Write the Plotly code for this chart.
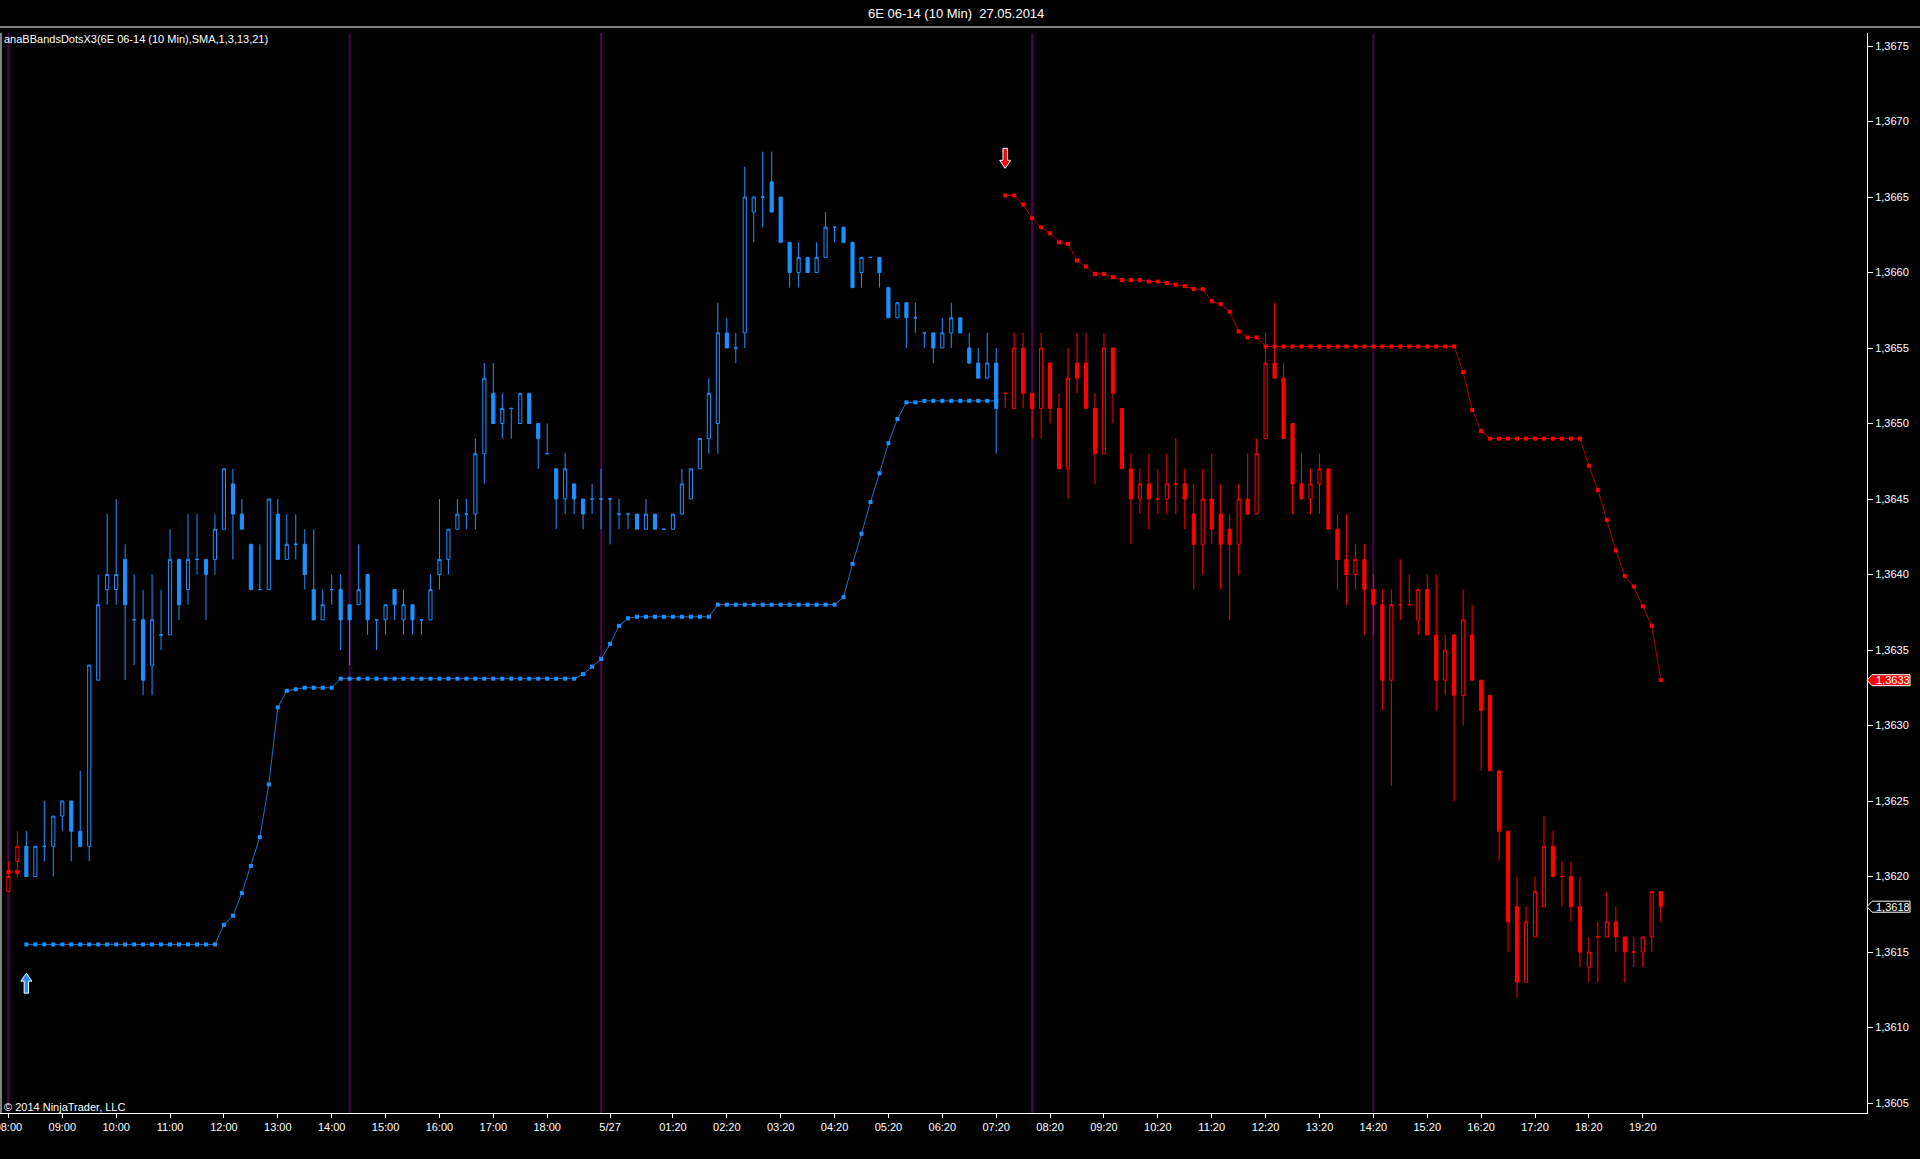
import plotly.graph_objects as go

# ---------------- data (10-minute bars, index 0 = 08:00 on 5/26) ----------------
opens = [
    1.3619, 1.3621, 1.3622, 1.3620, 1.3622, 1.3622, 1.3624, 1.3625, 1.3623, 1.3622,
    1.3633, 1.3639, 1.3639, 1.3641, 1.3637, 1.3637, 1.3634, 1.3636, 1.3636, 1.3641,
    1.3639, 1.3641, 1.3641, 1.3641, 1.3643, 1.3646, 1.3644, 1.3642, 1.3639, 1.3639,
    1.3644, 1.3641, 1.3642, 1.3642, 1.3639, 1.3637, 1.3639, 1.3639, 1.3638, 1.3638,
    1.3640, 1.3637, 1.3637, 1.3639, 1.3637, 1.3638, 1.3637, 1.3637, 1.3640, 1.3641,
    1.3643, 1.3644, 1.3644, 1.3648, 1.3652, 1.3650, 1.3651, 1.3650, 1.3652, 1.3650,
    1.3648, 1.3647, 1.3645, 1.3646, 1.3645, 1.3645, 1.3645, 1.3645, 1.3644, 1.3644,
    1.3644, 1.3643, 1.3644, 1.3643, 1.3643, 1.3644, 1.3645, 1.3647, 1.3649, 1.3650,
    1.3656, 1.3655, 1.3656, 1.3664, 1.3665, 1.3666, 1.3665, 1.3662, 1.3660, 1.3661,
    1.3660, 1.3661, 1.3663, 1.3663, 1.3662, 1.3660, 1.3661, 1.3661, 1.3659, 1.3657,
    1.3658, 1.3657, 1.3656, 1.3656, 1.3655, 1.3656, 1.3657, 1.3655, 1.3654, 1.3653,
    1.3654, 1.3652, 1.3651, 1.3655, 1.3652, 1.3651, 1.3654, 1.3651, 1.3647, 1.3654,
    1.3654, 1.3651, 1.3648, 1.3655, 1.3651, 1.3647, 1.3645, 1.3646, 1.3645, 1.3645,
    1.3646, 1.3646, 1.3644, 1.3642, 1.3645, 1.3644, 1.3643, 1.3642, 1.3645, 1.3644,
    1.3649, 1.3654, 1.3653, 1.3650, 1.3646, 1.3645, 1.3646, 1.3647, 1.3643, 1.3641,
    1.3640, 1.3641, 1.3639, 1.3638, 1.3633, 1.3638, 1.3638, 1.3637, 1.3639, 1.3636,
    1.3633, 1.3636, 1.3632, 1.3636, 1.3633, 1.3632, 1.3627, 1.3623, 1.3618, 1.3613,
    1.3616, 1.3618, 1.3622, 1.3620, 1.3620, 1.3618, 1.3614, 1.3616, 1.3616, 1.3617,
    1.3616, 1.3615, 1.3615, 1.3616, 1.3619,
]
highs = [
    1.3621, 1.3623, 1.3623, 1.3622, 1.3625, 1.3624, 1.3625, 1.3625, 1.3627, 1.3634,
    1.3640, 1.3644, 1.3645, 1.3642, 1.3640, 1.3639, 1.3640, 1.3639, 1.3643, 1.3641,
    1.3644, 1.3644, 1.3641, 1.3644, 1.3647, 1.3647, 1.3645, 1.3642, 1.3642, 1.3645,
    1.3645, 1.3644, 1.3644, 1.3643, 1.3643, 1.3639, 1.3640, 1.3640, 1.3638, 1.3642,
    1.3640, 1.3637, 1.3638, 1.3639, 1.3639, 1.3638, 1.3637, 1.3640, 1.3645, 1.3643,
    1.3645, 1.3645, 1.3649, 1.3654, 1.3654, 1.3652, 1.3651, 1.3652, 1.3652, 1.3650,
    1.3650, 1.3647, 1.3648, 1.3646, 1.3645, 1.3646, 1.3647, 1.3645, 1.3645, 1.3644,
    1.3644, 1.3645, 1.3644, 1.3643, 1.3644, 1.3647, 1.3647, 1.3649, 1.3653, 1.3658,
    1.3657, 1.3656, 1.3667, 1.3665, 1.3668, 1.3668, 1.3665, 1.3662, 1.3662, 1.3661,
    1.3662, 1.3664, 1.3663, 1.3663, 1.3662, 1.3661, 1.3661, 1.3661, 1.3659, 1.3658,
    1.3658, 1.3658, 1.3656, 1.3656, 1.3657, 1.3658, 1.3657, 1.3656, 1.3655, 1.3656,
    1.3655, 1.3652, 1.3656, 1.3656, 1.3652, 1.3656, 1.3654, 1.3652, 1.3655, 1.3656,
    1.3656, 1.3652, 1.3656, 1.3655, 1.3651, 1.3648, 1.3647, 1.3648, 1.3647, 1.3648,
    1.3649, 1.3647, 1.3646, 1.3647, 1.3648, 1.3646, 1.3644, 1.3646, 1.3648, 1.3649,
    1.3656, 1.3658, 1.3654, 1.3650, 1.3648, 1.3647, 1.3648, 1.3647, 1.3644, 1.3644,
    1.3642, 1.3642, 1.3640, 1.3639, 1.3639, 1.3641, 1.3640, 1.3639, 1.3640, 1.3640,
    1.3636, 1.3636, 1.3639, 1.3638, 1.3633, 1.3632, 1.3627, 1.3623, 1.3620, 1.3618,
    1.3620, 1.3624, 1.3623, 1.3621, 1.3621, 1.3620, 1.3616, 1.3617, 1.3619, 1.3618,
    1.3616, 1.3616, 1.3616, 1.3619, 1.3619,
]
lows = [
    1.3619, 1.3620, 1.3620, 1.3620, 1.3621, 1.3620, 1.3623, 1.3621, 1.3622, 1.3621,
    1.3633, 1.3638, 1.3638, 1.3633, 1.3634, 1.3632, 1.3632, 1.3635, 1.3636, 1.3637,
    1.3638, 1.3640, 1.3637, 1.3640, 1.3643, 1.3641, 1.3643, 1.3639, 1.3639, 1.3639,
    1.3641, 1.3641, 1.3641, 1.3639, 1.3637, 1.3637, 1.3638, 1.3635, 1.3634, 1.3638,
    1.3636, 1.3635, 1.3636, 1.3637, 1.3636, 1.3636, 1.3636, 1.3637, 1.3639, 1.3640,
    1.3643, 1.3643, 1.3643, 1.3646, 1.3650, 1.3649, 1.3649, 1.3650, 1.3650, 1.3647,
    1.3648, 1.3643, 1.3644, 1.3644, 1.3643, 1.3644, 1.3643, 1.3642, 1.3643, 1.3643,
    1.3643, 1.3643, 1.3643, 1.3643, 1.3643, 1.3644, 1.3645, 1.3647, 1.3648, 1.3648,
    1.3655, 1.3654, 1.3655, 1.3662, 1.3663, 1.3664, 1.3662, 1.3659, 1.3659, 1.3660,
    1.3660, 1.3661, 1.3662, 1.3662, 1.3659, 1.3659, 1.3661, 1.3659, 1.3657, 1.3657,
    1.3655, 1.3656, 1.3655, 1.3654, 1.3655, 1.3655, 1.3656, 1.3654, 1.3653, 1.3653,
    1.3648, 1.3651, 1.3651, 1.3651, 1.3649, 1.3649, 1.3650, 1.3647, 1.3645, 1.3652,
    1.3651, 1.3646, 1.3648, 1.3650, 1.3647, 1.3642, 1.3644, 1.3643, 1.3644, 1.3644,
    1.3644, 1.3643, 1.3639, 1.3640, 1.3642, 1.3639, 1.3637, 1.3640, 1.3644, 1.3644,
    1.3649, 1.3653, 1.3649, 1.3644, 1.3645, 1.3644, 1.3644, 1.3643, 1.3639, 1.3638,
    1.3639, 1.3636, 1.3636, 1.3631, 1.3626, 1.3637, 1.3638, 1.3636, 1.3636, 1.3631,
    1.3632, 1.3625, 1.3630, 1.3633, 1.3627, 1.3627, 1.3621, 1.3615, 1.3612, 1.3613,
    1.3616, 1.3618, 1.3620, 1.3618, 1.3617, 1.3614, 1.3613, 1.3613, 1.3616, 1.3615,
    1.3613, 1.3614, 1.3614, 1.3615, 1.3617,
]
closes = [
    1.3620, 1.3622, 1.3620, 1.3622, 1.3622, 1.3624, 1.3625, 1.3623, 1.3622, 1.3634,
    1.3638, 1.3640, 1.3640, 1.3638, 1.3637, 1.3633, 1.3637, 1.3636, 1.3641, 1.3638,
    1.3641, 1.3641, 1.3640, 1.3643, 1.3647, 1.3644, 1.3643, 1.3639, 1.3639, 1.3645,
    1.3641, 1.3642, 1.3642, 1.3640, 1.3637, 1.3638, 1.3639, 1.3637, 1.3637, 1.3639,
    1.3637, 1.3637, 1.3638, 1.3638, 1.3638, 1.3637, 1.3637, 1.3639, 1.3641, 1.3643,
    1.3644, 1.3644, 1.3648, 1.3653, 1.3650, 1.3651, 1.3651, 1.3652, 1.3650, 1.3649,
    1.3648, 1.3645, 1.3647, 1.3645, 1.3644, 1.3645, 1.3645, 1.3645, 1.3644, 1.3644,
    1.3643, 1.3644, 1.3643, 1.3643, 1.3644, 1.3646, 1.3647, 1.3649, 1.3652, 1.3656,
    1.3655, 1.3655, 1.3665, 1.3665, 1.3665, 1.3664, 1.3662, 1.3660, 1.3661, 1.3660,
    1.3661, 1.3663, 1.3663, 1.3662, 1.3659, 1.3661, 1.3661, 1.3660, 1.3657, 1.3658,
    1.3657, 1.3657, 1.3656, 1.3655, 1.3656, 1.3657, 1.3656, 1.3654, 1.3653, 1.3654,
    1.3651, 1.3652, 1.3655, 1.3652, 1.3651, 1.3655, 1.3651, 1.3647, 1.3653, 1.3653,
    1.3651, 1.3648, 1.3655, 1.3652, 1.3647, 1.3645, 1.3646, 1.3645, 1.3645, 1.3646,
    1.3646, 1.3645, 1.3642, 1.3645, 1.3643, 1.3642, 1.3642, 1.3645, 1.3644, 1.3648,
    1.3654, 1.3653, 1.3649, 1.3646, 1.3645, 1.3646, 1.3647, 1.3643, 1.3641, 1.3640,
    1.3641, 1.3639, 1.3638, 1.3633, 1.3638, 1.3638, 1.3638, 1.3639, 1.3636, 1.3633,
    1.3635, 1.3632, 1.3637, 1.3633, 1.3631, 1.3627, 1.3623, 1.3617, 1.3613, 1.3617,
    1.3619, 1.3622, 1.3620, 1.3620, 1.3618, 1.3615, 1.3615, 1.3616, 1.3617, 1.3616,
    1.3615, 1.3615, 1.3616, 1.3619, 1.3618,
]

# trend regime: bars before up_trend_start and from down_trend_start are red
up_trend_start = 2
down_trend_start = 111

# lower (blue) band dots, bars 2..110
lower_band = (
    [1.36155] * 22
    + [1.36168, 1.36174, 1.36189, 1.36207, 1.36226, 1.36261, 1.36312, 1.36323, 1.36324]
    + [1.36325] * 4
    + [1.36331] * 27
    + [1.36334, 1.36339, 1.36344, 1.36354, 1.36366, 1.36371]
    + [1.36372] * 9
    + [1.3638] * 14
    + [1.36385, 1.36407, 1.36427, 1.36448, 1.36467, 1.36487, 1.36503]
    + [1.36514] * 2
    + [1.36515] * 9
)
# upper (red) band dots, bars 0..1 and 111..184
upper_band_early = [1.36203, 1.36203]
upper_band = (
    [1.36651, 1.36651, 1.36645, 1.36636, 1.3663, 1.36626, 1.3662, 1.36619, 1.36608, 1.36604,
     1.36599, 1.36599, 1.36597, 1.36595, 1.36595, 1.36595, 1.36594, 1.36594, 1.36593, 1.36592,
     1.36591, 1.36589, 1.36589, 1.36581, 1.36579, 1.36574, 1.36561, 1.36557, 1.36557]
    + [1.36551] * 22
    + [1.36534, 1.36509, 1.36495]
    + [1.3649] * 11
    + [1.36472, 1.36456, 1.36436, 1.36416, 1.36399, 1.36392, 1.36379, 1.36366, 1.3633]
)

# signal arrows (bar index, price of arrow tip)
long_signal = (2, 1.36136)
short_signal = (111, 1.36669)

# session break bars (purple lines)
session_breaks = [0, 38, 66, 114, 152]

tick_bars = [0, 6, 12, 18, 24, 30, 36, 42, 48, 54, 60, 67, 74, 80, 86, 92, 98, 104, 110,
             116, 122, 128, 134, 140, 146, 152, 158, 164, 170, 176, 182]
tick_labels = ["08:00", "09:00", "10:00", "11:00", "12:00", "13:00", "14:00", "15:00",
               "16:00", "17:00", "18:00", "5/27", "01:20", "02:20", "03:20", "04:20",
               "05:20", "06:20", "07:20", "08:20", "09:20", "10:20", "11:20", "12:20",
               "13:20", "14:20", "15:20", "16:20", "17:20", "18:20", "19:20"]

title_text = "6E 06-14 (10 Min)\u00a0 27.05.2014"
indicator_text = "anaBBandsDotsX3(6E 06-14 (10 Min),SMA,1,3,13,21)"
copyright_text = "\u00a9 2014 NinjaTrader, LLC"

# ---------------- styling ----------------
BLUE = "#1E90FF"
BLUE_LINE = "#1f72c8"
RED = "#FF0000"
RED_LINE = "#b00000"
PURPLE = "#4e0050"
FONT = "Liberation Sans, Arial, sans-serif"

n = len(closes)
blue_idx = list(range(up_trend_start, down_trend_start))
red_idx = list(range(0, up_trend_start)) + list(range(down_trend_start, n))

fig = go.Figure()

# band dot lines (drawn under candles)
fig.add_trace(go.Scatter(
    x=list(range(up_trend_start, up_trend_start + len(lower_band))), y=lower_band,
    mode="lines+markers", line=dict(color=BLUE_LINE, width=1),
    marker=dict(symbol="square", size=4, color=BLUE, line=dict(width=0)),
    hoverinfo="skip"))
fig.add_trace(go.Scatter(
    x=list(range(0, len(upper_band_early))), y=upper_band_early,
    mode="lines+markers", line=dict(color=RED_LINE, width=1),
    marker=dict(symbol="square", size=4, color=RED, line=dict(width=0)),
    hoverinfo="skip"))
fig.add_trace(go.Scatter(
    x=list(range(down_trend_start, down_trend_start + len(upper_band))), y=upper_band,
    mode="lines+markers", line=dict(color=RED_LINE, width=1),
    marker=dict(symbol="square", size=4, color=RED, line=dict(width=0)),
    hoverinfo="skip"))


def candles(idx, color):
    return go.Candlestick(
        x=idx,
        open=[opens[i] for i in idx], high=[highs[i] for i in idx],
        low=[lows[i] for i in idx], close=[closes[i] for i in idx],
        increasing=dict(line=dict(color=color, width=1), fillcolor="#000000"),
        decreasing=dict(line=dict(color=color, width=1), fillcolor=color),
        whiskerwidth=0, hoverinfo="skip")


fig.add_trace(candles(blue_idx, BLUE))
fig.add_trace(candles(red_idx, RED))

shapes = []
for b in session_breaks:
    shapes.append(dict(type="line", xref="x", yref="paper", x0=b, x1=b, y0=0, y1=1,
                       line=dict(color=PURPLE, width=2), layer="below"))

# frame lines
shapes.append(dict(type="line", xref="paper", yref="paper", ysizemode="pixel", yanchor=1,
                   x0=0, x1=1.03, y0=6, y1=6, line=dict(color="white", width=1)))
shapes.append(dict(type="line", xref="paper", yref="paper", xsizemode="pixel", xanchor=0,
                   x0=1, x1=1, y0=0, y1=1, line=dict(color="white", width=1)))

# signal arrows
up_arrow = "M 0 0 L 5.5 -8 L 2.2 -8 L 2.2 -20 L -2.2 -20 L -2.2 -8 L -5.5 -8 Z"
down_arrow = "M 0 0 L 5.5 8 L 2.2 8 L 2.2 20 L -2.2 20 L -2.2 8 L -5.5 8 Z"
shapes.append(dict(type="path", xref="x", yref="y", xsizemode="pixel", ysizemode="pixel",
                   xanchor=long_signal[0], yanchor=long_signal[1], path=up_arrow,
                   fillcolor=BLUE, line=dict(color="white", width=1)))
shapes.append(dict(type="path", xref="x", yref="y", xsizemode="pixel", ysizemode="pixel",
                   xanchor=short_signal[0], yanchor=short_signal[1], path=down_arrow,
                   fillcolor=RED, line=dict(color="white", width=1)))

# price markers on the axis
box = "M 0 0 L 5 5.5 L 43 5.5 L 43 -5.5 L 5 -5.5 Z"
markers = [(upper_band[-1], RED), (closes[-1], "#000000")]
annotations = []
for val, bg in markers:
    shapes.append(dict(type="path", xref="paper", yref="y", xsizemode="pixel",
                       ysizemode="pixel", xanchor=1, yanchor=val, path=box,
                       fillcolor=bg, line=dict(color="white", width=1)))
    annotations.append(dict(xref="paper", yref="y", x=1, y=val, xanchor="left",
                            yanchor="middle", xshift=7, showarrow=False,
                            text=f"{val:.4f}".replace(".", ","),
                            font=dict(family=FONT, size=11, color="white")))

annotations.append(dict(xref="paper", yref="paper", x=0, y=1, xanchor="left", yanchor="top",
                        xshift=2, yshift=2, showarrow=False, text=indicator_text,
                        font=dict(family=FONT, size=11, color="white")))
annotations.append(dict(xref="paper", yref="paper", x=0, y=0, xanchor="left",
                        yanchor="bottom", xshift=2, yshift=-2, showarrow=False,
                        text=copyright_text, font=dict(family=FONT, size=11, color="white")))

fig.update_layout(
    width=1920, height=1159,
    paper_bgcolor="#000000", plot_bgcolor="#000000",
    margin=dict(l=0, r=53, t=33, b=46, pad=0, autoexpand=False),
    showlegend=False, separators=",.", boxgap=0.5, hovermode=False,
    font=dict(family=FONT, size=11, color="white"),
    title=dict(text=title_text, xref="container", yref="container", x=0.498, y=0.9884,
               xanchor="center", yanchor="middle",
               font=dict(family=FONT, size=13, color="white")),
    xaxis=dict(range=[-0.935, 206.97], tickmode="array", tickvals=tick_bars,
               ticktext=tick_labels, showgrid=False, zeroline=False, showline=True,
               linecolor="white", linewidth=1, ticks="outside", ticklen=4,
               tickcolor="white", tickfont=dict(family=FONT, size=11, color="white"),
               ticklabeloverflow="allow", automargin=False,
               rangeslider=dict(visible=False), fixedrange=True),
    yaxis=dict(side="right", range=[1.3604338, 1.3675861], tick0=1.3605, dtick=0.0005,
               tickformat=".4f", showgrid=False, zeroline=False, showline=True,
               linecolor="white", linewidth=1, ticks="outside", ticklen=5,
               tickcolor="white", tickfont=dict(family=FONT, size=11, color="white"),
               automargin=False, fixedrange=True),
    shapes=shapes, annotations=annotations,
)

fig.write_html("out.html", config={"displayModeBar": False},
               post_script="document.body.style.margin='0';document.body.style.overflow='hidden';")
